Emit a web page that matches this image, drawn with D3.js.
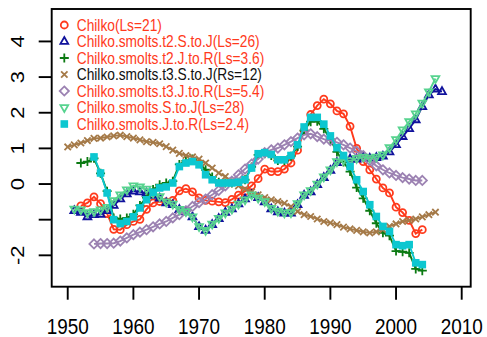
<!DOCTYPE html>
<html><head><meta charset="utf-8">
<script src="https://cdn.jsdelivr.net/npm/d3@7"></script>
<style>html,body{margin:0;padding:0;background:#fff;}svg{display:block;font-family:"Liberation Sans",Arial,sans-serif;}</style>
</head><body>
<script>
// ---- data ----
const xTicks = [1950, 1960, 1970, 1980, 1990, 2000, 2010];
const yTicks = [-2, -1, 0, 1, 2, 3, 4];
const yTickLabels = ["-2", "", "0", "1", "2", "3", "4"];

const legendLabels = ["Chilko(Ls=21)", "Chilko.smolts.t2.S.to.J(Ls=26)", "Chilko.smolts.t2.J.to.R(Ls=3.6)",
  "Chilko.smolts.t3.S.to.J(Rs=12)", "Chilko.smolts.t3.J.to.R(Ls=5.4)", "Chilko.smolts.S.to.J(Ls=28)", "Chilko.smolts.J.to.R(Ls=2.4)"];

const chilkoStart = 1952;
const chilko = [-0.61,-0.53,-0.36,-0.55,-0.83,-1.27,-1.28,-1.14,-1.05,-0.99,-0.71,-0.53,-0.49,-0.5,-0.46,-0.19,-0.13,-0.22,-0.39,-0.46,
  -0.48,-0.5,-0.52,-0.43,-0.31,-0.2,-0.05,0.15,0.42,0.35,0.35,0.42,0.59,0.95,1.5,1.95,2.2,2.38,2.25,2.05,1.97,1.62,1.0,0.63,0.4,0.14,
  -0.11,-0.25,-0.65,-0.8,-1.02,-1.39,-1.28];

const t2SJStart = 1951;
const t2SJ = [-0.75,-0.8,-0.92,-0.86,-0.85,-0.75,-0.6,-0.42,-0.28,-0.2,-0.22,-0.26,-0.32,-0.4,-0.53,-0.58,-0.72,-0.78,-0.92,-1.2,
  -1.3,-1.14,-0.97,-0.8,-0.7,-0.56,-0.42,-0.3,-0.38,-0.5,-0.7,-0.78,-0.82,-0.82,-0.58,-0.32,-0.22,-0.02,0.18,0.38,0.6,0.7,0.7,0.7,
  0.75,0.72,0.74,0.78,0.9,1.1,1.33,1.55,1.8,2.17,2.5,2.66,2.59];

const t2JRStart = 1952;
const t2JR = [0.59,0.63,0.72,0.3,-0.2,-0.95,-0.98,-0.95,-0.85,-0.6,-0.38,-0.15,-0.02,0.03,0.08,0.55,0.65,0.7,0.6,0.4,0.2,0.05,0.03,
  0.03,0.05,0.12,0.48,0.82,0.85,0.8,0.66,0.66,0.78,1.05,1.5,1.75,1.76,1.55,1.25,0.9,0.62,0.35,-0.1,-0.4,-0.75,-1.1,-1.37,-1.45,
  -1.88,-1.9,-1.93,-2.38,-2.43];

const t3SJStart = 1950;
const t3SJ = [1.04,1.1,1.15,1.22,1.28,1.29,1.32,1.35,1.37,1.33,1.29,1.24,1.19,1.17,1.13,1.05,0.95,0.86,0.8,0.76,0.7,0.59,0.45,0.31,
  0.21,0.08,-0.05,-0.14,-0.22,-0.3,-0.38,-0.44,-0.49,-0.54,-0.63,-0.77,-0.86,-0.91,-0.98,-1.05,-1.09,-1.14,-1.21,-1.26,-1.3,-1.34,
  -1.37,-1.34,-1.28,-1.19,-1.12,-1.05,-1.02,-0.98,-0.92,-0.86,-0.79];

const t3JRStart = 1954;
const t3JR = [-1.68,-1.67,-1.67,-1.66,-1.6,-1.51,-1.42,-1.35,-1.28,-1.2,-1.12,-1.05,-0.95,-0.86,-0.75,-0.63,-0.52,-0.42,-0.3,-0.18,
  -0.05,0.08,0.26,0.42,0.56,0.7,0.88,0.96,1.01,1.1,1.19,1.29,1.38,1.41,1.33,1.26,1.22,1.17,1.1,1.01,0.92,0.8,0.66,0.51,0.4,0.31,
  0.24,0.18,0.14,0.1,0.1];

const sjStart = 1951;
const sj = [-0.7,-0.72,-0.8,-0.77,-0.72,-0.65,-0.46,-0.3,-0.16,-0.05,-0.08,-0.14,-0.25,-0.35,-0.5,-0.56,-0.71,-0.77,-0.92,-1.19,
  -1.3,-1.12,-0.96,-0.81,-0.7,-0.56,-0.44,-0.3,-0.39,-0.49,-0.68,-0.76,-0.81,-0.8,-0.55,-0.3,-0.18,0.0,0.2,0.4,0.63,0.68,0.65,0.72,
  0.76,0.73,0.76,0.82,1.02,1.25,1.52,1.75,1.97,2.27,2.59,2.96];

const jrStart = 1954;
const jr = [0.76,0.31,-0.25,-1.0,-1.11,-1.05,-0.92,-0.67,-0.44,-0.23,-0.11,-0.08,0.03,0.49,0.59,0.63,0.54,0.26,0.12,0.03,0.03,0.03,
  0.05,0.12,0.45,0.85,0.88,0.83,0.68,0.68,0.8,1.1,1.6,1.87,1.87,1.68,1.35,1.02,0.8,0.49,0.12,-0.21,-0.58,-0.91,-1.19,-1.33,-1.7,
  -1.73,-1.7,-2.21,-2.26];

// ---- layout ----
const W = 487, H = 337;
const box = {l: 51.7, r: 470.7, t: 9, b: 286.7};
const xlim = [1947.56, 2011.37], ylim = [-2.88, 4.91];
const x = d3.scaleLinear().domain(xlim).range([box.l, box.r]);
const y = d3.scaleLinear().domain(ylim).range([box.b, box.t]);
const SX = 0.86;

const svg = d3.select("body").append("svg").attr("width", W).attr("height", H);

const series = [
  {start: chilkoStart, vals: chilko, color: "#ff3a1c", shape: "circle"},
  {start: t2SJStart, vals: t2SJ, color: "#10129c", shape: "tri"},
  {start: t2JRStart, vals: t2JR, color: "#0b7a12", shape: "plus"},
  {start: t3SJStart, vals: t3SJ, color: "#a57a48", shape: "cross"},
  {start: t3JRStart, vals: t3JR, color: "#9c82b2", shape: "diamond"},
  {start: sjStart, vals: sj, color: "#57d38f", shape: "dtri"},
  {start: jrStart, vals: jr, color: "#0cc7d0", shape: "square"}
];
const legendTextColors = ["#ff3a1c","#ff3a1c","#ff3a1c","#111","#ff3a1c","#ff3a1c","#ff3a1c"];

function marker(g, shape, color, cx, cy) {
  const sw = 1.8;
  if (shape === "circle") {
    g.append("circle").attr("cx", cx).attr("cy", cy).attr("r", 3.5).attr("fill", "none").attr("stroke", color).attr("stroke-width", sw);
  } else if (shape === "square") {
    g.append("rect").attr("x", cx - 3.8).attr("y", cy - 3.8).attr("width", 7.6).attr("height", 7.6).attr("fill", color);
  } else {
    let p;
    if (shape === "tri") p = `M${cx},${cy-4.5}L${cx+3.9},${cy+2.4}L${cx-3.9},${cy+2.4}Z`;
    else if (shape === "dtri") p = `M${cx},${cy+4.5}L${cx+3.9},${cy-2.4}L${cx-3.9},${cy-2.4}Z`;
    else if (shape === "plus") p = `M${cx-4.5},${cy}H${cx+4.5}M${cx},${cy-4.5}V${cy+4.5}`;
    else if (shape === "cross") p = `M${cx-3.2},${cy-3.2}L${cx+3.2},${cy+3.2}M${cx-3.2},${cy+3.2}L${cx+3.2},${cy-3.2}`;
    else if (shape === "diamond") p = `M${cx},${cy-4.6}L${cx+4.6},${cy}L${cx},${cy+4.6}L${cx-4.6},${cy}Z`;
    g.append("path").attr("d", p).attr("fill", "none").attr("stroke", color).attr("stroke-width", sw);
  }
}

const line = d3.line().x(d => x(d[0])).y(d => y(d[1]));
const plot = svg.append("g");
series.forEach(s => {
  const pts = s.vals.map((v, i) => [s.start + i, v]);
  const g = plot.append("g");
  g.append("path").attr("d", line(pts)).attr("fill", "none").attr("stroke", s.color).attr("stroke-width", 1.9);
  pts.forEach(p => marker(g, s.shape, s.color, x(p[0]), y(p[1])));
});

// box
svg.append("rect").attr("x", box.l).attr("y", box.t).attr("width", box.r - box.l).attr("height", box.b - box.t)
  .attr("fill", "none").attr("stroke", "#000").attr("stroke-width", 1.9);

// x axis
const xa = svg.append("g");
xTicks.forEach(t => {
  xa.append("line").attr("x1", x(t)).attr("x2", x(t)).attr("y1", box.b).attr("y2", box.b + 13).attr("stroke", "#000").attr("stroke-width", 1.9);
  xa.append("text").attr("transform", `translate(${x(t)},${334}) scale(${SX},1)`).attr("text-anchor", "middle")
    .attr("font-size", 22).attr("fill", "#000").text(t);
});
// y axis
const ya = svg.append("g");
yTicks.forEach((t, i) => {
  ya.append("line").attr("x1", box.l).attr("x2", box.l - 13).attr("y1", y(t)).attr("y2", y(t)).attr("stroke", "#000").attr("stroke-width", 1.9);
  if (yTickLabels[i]) {
    ya.append("text").attr("transform", `translate(${24},${y(t)}) scale(${SX},1) rotate(-90)`).attr("text-anchor", "middle")
      .attr("font-size", 22).attr("fill", "#000").text(yTickLabels[i]);
  }
});

// legend
const lg = svg.append("g");
legendLabels.forEach((lab, i) => {
  const cy = 25 + 16.5 * i;
  marker(lg, series[i].shape, series[i].color, 64.3, cy);
  lg.append("text").attr("transform", `translate(76.7,${cy + 5.7}) scale(${SX},1)`).attr("font-size", 16)
    .attr("fill", legendTextColors[i]).text(lab);
});
</script>
</body></html>
